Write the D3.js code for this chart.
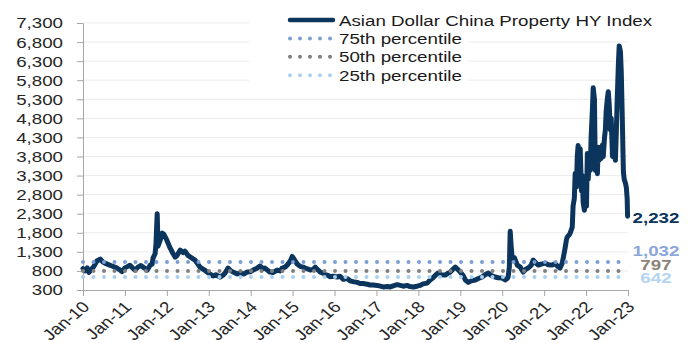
<!DOCTYPE html>
<html>
<head>
<meta charset="utf-8">
<script src="https://cdn.jsdelivr.net/npm/d3@7"></script>
<style>
  body { margin: 0; background: #fff; }
  svg { display: block; }
  text { font-family: Arial, "Liberation Sans", sans-serif; }
</style>
</head>
<body>
<svg id="chart" width="696" height="343"></svg>
<script>
// Index level (spread, bp) sampled over time, as fractional years
const years = [
  2010.00, 2010.05, 2010.10, 2010.14, 2010.19, 2010.26, 2010.33, 2010.41, 2010.48, 2010.55,
  2010.62, 2010.69, 2010.76, 2010.81, 2010.88, 2010.93, 2011.00, 2011.07, 2011.12, 2011.19,
  2011.24, 2011.31, 2011.38, 2011.46, 2011.53, 2011.60, 2011.65, 2011.67, 2011.72, 2011.74,
  2011.77, 2011.79, 2011.84, 2011.89, 2011.93, 2012.00, 2012.08, 2012.15, 2012.20, 2012.24,
  2012.32, 2012.39, 2012.43, 2012.51, 2012.60, 2012.67, 2012.74, 2012.79, 2012.89, 2012.96,
  2013.03, 2013.10, 2013.17, 2013.27, 2013.34, 2013.39, 2013.46, 2013.53, 2013.58, 2013.68,
  2013.75, 2013.84, 2013.91, 2013.99, 2014.06, 2014.15, 2014.22, 2014.30, 2014.34, 2014.42,
  2014.46, 2014.53, 2014.63, 2014.70, 2014.75, 2014.82, 2014.87, 2014.94, 2014.99, 2015.04,
  2015.11, 2015.18, 2015.25, 2015.30, 2015.37, 2015.42, 2015.49, 2015.54, 2015.61, 2015.66,
  2015.73, 2015.78, 2015.85, 2015.89, 2015.97, 2016.06, 2016.13, 2016.21, 2016.30, 2016.37,
  2016.44, 2016.54, 2016.61, 2016.68, 2016.78, 2016.85, 2016.92, 2017.02, 2017.09, 2017.16,
  2017.26, 2017.33, 2017.40, 2017.49, 2017.57, 2017.64, 2017.73, 2017.80, 2017.88, 2017.97,
  2018.04, 2018.11, 2018.21, 2018.28, 2018.35, 2018.42, 2018.47, 2018.54, 2018.64, 2018.71,
  2018.76, 2018.83, 2018.88, 2018.93, 2019.00, 2019.07, 2019.12, 2019.19, 2019.26, 2019.36,
  2019.43, 2019.52, 2019.59, 2019.67, 2019.74, 2019.83, 2019.90, 2020.00, 2020.07, 2020.12,
  2020.14, 2020.17, 2020.19, 2020.21, 2020.24, 2020.29, 2020.36, 2020.43, 2020.50, 2020.57,
  2020.62, 2020.69, 2020.74, 2020.81, 2020.86, 2020.93, 2021.03, 2021.10, 2021.19, 2021.26,
  2021.34, 2021.38, 2021.43, 2021.46, 2021.50, 2021.53, 2021.55, 2021.60, 2021.62, 2021.67,
  2021.69, 2021.72, 2021.74, 2021.77, 2021.79, 2021.81, 2021.84, 2021.86, 2021.89, 2021.91,
  2021.93, 2021.96, 2021.98, 2022.01, 2022.03, 2022.05, 2022.07, 2022.10, 2022.12, 2022.15,
  2022.17, 2022.20, 2022.22, 2022.24, 2022.27, 2022.29, 2022.31, 2022.34, 2022.36, 2022.39,
  2022.41, 2022.44, 2022.46, 2022.48, 2022.51, 2022.53, 2022.55, 2022.58, 2022.60, 2022.63,
  2022.65, 2022.67, 2022.70, 2022.72, 2022.74, 2022.77, 2022.79, 2022.82, 2022.84, 2022.86,
  2022.89, 2022.91, 2022.94, 2022.96, 2022.98, 2022.99
];
const values = [
  860, 800, 880, 760, 830, 920, 1060, 1110, 1030, 990,
  960, 930, 900, 875, 830, 780, 880, 920, 950, 870,
  820, 900, 940, 880, 820, 950, 980, 1136, 1250, 1500,
  2300, 1450, 1600, 1790, 1760, 1606, 1397, 1250, 1160, 1200,
  1345, 1280, 1320, 1200, 1136, 1085, 980, 900, 830, 770,
  720, 665, 700, 640, 690, 744, 875, 800, 770, 720,
  744, 720, 770, 780, 822, 870, 927, 860, 875, 800,
  770, 760, 822, 800, 875, 900, 953, 1050, 1180, 1100,
  980, 920, 900, 875, 850, 822, 840, 900, 820, 770,
  740, 700, 680, 650, 660, 640, 660, 580, 600, 540,
  520, 500, 470, 470, 450, 430, 430, 420, 400, 380,
  390, 380, 410, 440, 420, 400, 420, 390, 380, 400,
  420, 460, 480, 561, 620, 700, 744, 700, 692, 740,
  770, 850, 900, 850, 770, 680, 561, 500, 540, 561,
  600, 640, 700, 744, 680, 640, 620, 614, 561, 600,
  640, 900, 1842, 1500, 1085, 1150, 953, 900, 770, 850,
  875, 950, 1085, 1000, 953, 980, 1005, 960, 953, 990,
  900, 875, 1000, 1162, 1400, 1606, 1685, 1750, 1790, 1946,
  2500, 2700, 3357, 3000, 3800, 4090, 3400, 4000, 2900, 3300,
  2600, 2390, 2800, 2500, 3880, 3200, 3600, 3435, 4300, 5000,
  5600, 5300, 3435, 4000, 3350, 4040, 3700, 3950, 3750, 4100,
  3800, 4300, 4500, 5000, 5340, 5500, 5200, 4500, 4800, 3800,
  4300, 3900, 3700, 4400, 5200, 6200, 6700, 6550, 6000, 5000,
  3400, 3200, 3100, 2990, 2700, 2232
];

const seriesName = "Asian Dollar China Property HY Index";
const percentileNames = ["75th percentile", "50th percentile", "25th percentile"];
const percentileValues = [1032, 797, 642];
const percentileColors = ["#7b9fd3", "#7f7f7f", "#a9d0f1"];
const percentileLabelColors = ["#8aa7d8", "#8c8378", "#b3d5f2"];
const yTickValues = d3.range(300, 7301, 500);
const xTickValues = d3.range(2010, 2024);

const lineColor = "#0c355e";
const stretch = 1.21;     // horizontal glyph stretch
const fontSize = 15.5;

const svg = d3.select("#chart");
const x = d3.scaleLinear().domain([2010, 2023]).range([83, 628]);
const y = d3.scaleLinear().domain([300, 7300]).range([290, 23]);

const data = years.map((t, i) => ({ t, v: values[i] }));

// horizontal gridlines
svg.append("g")
  .selectAll("line")
  .data(yTickValues.filter(d => d > 300))
  .join("line")
  .attr("x1", x.range()[0]).attr("x2", x.range()[1])
  .attr("y1", d => y(d)).attr("y2", d => y(d))
  .attr("stroke", "#ebebeb").attr("stroke-width", 1);

// y axis
const yAxis = svg.append("g")
  .attr("transform", `translate(${x.range()[0]},0)`)
  .call(d3.axisLeft(y).tickValues(yTickValues).tickFormat(d3.format(","))
    .tickSizeInner(6).tickSizeOuter(0).tickPadding(10.5));
yAxis.select(".domain").attr("stroke", "#a6a6a6");
yAxis.selectAll(".tick line").attr("stroke", "#a6a6a6");
yAxis.selectAll(".tick text")
  .attr("font-size", fontSize).attr("fill", "#262626")
  .attr("font-family", "Arial, 'Liberation Sans', sans-serif")
  .attr("transform", `scale(${stretch},1)`);

// x axis
const xAxis = svg.append("g")
  .attr("transform", `translate(0,${y.range()[0]})`)
  .call(d3.axisBottom(x).tickValues(xTickValues).tickFormat(() => "")
    .tickSizeInner(6).tickSizeOuter(0));
xAxis.select(".domain").attr("stroke", "#a6a6a6");
xAxis.selectAll(".tick line").attr("stroke", "#a6a6a6");

svg.append("g")
  .selectAll("text")
  .data(xTickValues)
  .join("text")
  .attr("transform", d => `translate(${x(d) + 3},${y.range()[0] + 14}) scale(${stretch},1) rotate(-45)`)
  .attr("text-anchor", "end")
  .attr("dy", "0.35em")
  .attr("font-size", fontSize)
  .attr("fill", "#262626")
  .text(d => "Jan-" + String(d).slice(2));

// index line
const line = d3.line().x(d => x(d.t)).y(d => y(d.v));
svg.append("path")
  .datum(data)
  .attr("d", line)
  .attr("fill", "none")
  .attr("stroke", lineColor)
  .attr("stroke-width", 5)
  .attr("stroke-linejoin", "round")
  .attr("stroke-linecap", "round");

// percentile reference lines (dotted)
const tStart = years[0], tEnd = years[years.length - 1];
svg.append("g")
  .selectAll("line")
  .data(percentileValues)
  .join("line")
  .attr("x1", x(tStart)).attr("x2", x(tEnd))
  .attr("y1", d => y(d)).attr("y2", d => y(d))
  .attr("stroke", (d, i) => percentileColors[i])
  .attr("stroke-width", 4)
  .attr("stroke-linecap", "round")
  .attr("stroke-dasharray", "0 10.5");

// end-of-series value labels
const labelX = 656;
const lastValue = values[values.length - 1];
const valueLabels = [
  { v: lastValue, dy: 1, color: lineColor },
  { v: percentileValues[0], dy: -12, color: percentileLabelColors[0] },
  { v: percentileValues[1], dy: -6.5, color: percentileLabelColors[1] },
  { v: percentileValues[2], dy: 0.5, color: percentileLabelColors[2] }
];

svg.append("g")
  .selectAll("text")
  .data(valueLabels)
  .join("text")
  .attr("transform", d => `translate(${labelX},${y(d.v) + d.dy}) scale(${stretch},1)`)
  .attr("text-anchor", "middle")
  .attr("dy", "0.36em")
  .attr("font-size", fontSize)
  .attr("font-weight", "bold")
  .attr("fill", d => d.color)
  .text(d => d3.format(",")(d.v));

// legend
const legendItems = [
  { name: seriesName, color: lineColor, dotted: false },
  ...percentileNames.map((n, i) => ({ name: n, color: percentileColors[i], dotted: true }))
];
const legend = svg.append("g");
const rows = legend.selectAll("g")
  .data(legendItems)
  .join("g")
  .attr("transform", (d, i) => `translate(0,${20 + i * 18.4})`);

const bg = rows.append("rect")
  .attr("x", 249).attr("y", -9).attr("height", 18)
  .attr("fill", "#fff");

rows.append("line")
  .attr("x1", 290).attr("x2", 333)
  .attr("stroke", d => d.color)
  .attr("stroke-width", d => d.dotted ? 4 : 4.5)
  .attr("stroke-linecap", "round")
  .attr("stroke-dasharray", d => d.dotted ? "0 10" : null);

const labels = rows.append("text")
  .attr("transform", `translate(339,0) scale(${stretch},1)`)
  .attr("dy", "0.36em")
  .attr("font-size", fontSize)
  .attr("fill", "#1a1a1a")
  .text(d => d.name);

labels.each(function (d, i) {
  const w = this.getComputedTextLength() * stretch;
  d3.select(bg.nodes()[i]).attr("width", 339 + w + 6 - 249);
});
</script>
</body>
</html>
